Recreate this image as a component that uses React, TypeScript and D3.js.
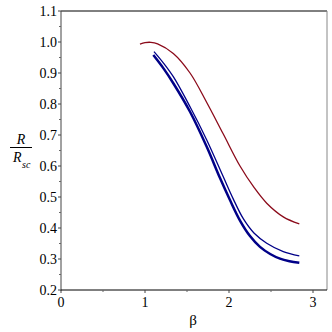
import React from "react";
import * as d3 from "d3";

const redBeta = [0.94, 1.0, 1.07, 1.15, 1.337, 1.536, 1.735, 1.932, 2.131, 2.3, 2.449, 2.646, 2.837];
const redR = [0.9935, 0.998, 0.999, 0.994, 0.963, 0.9, 0.805, 0.703, 0.6, 0.53, 0.48, 0.436, 0.413];

const thinBeta = [1.107, 1.22, 1.337, 1.536, 1.735, 1.932, 2.05, 2.17, 2.3, 2.449, 2.646, 2.837];
const thinR = [0.969, 0.932, 0.888, 0.791, 0.684, 0.565, 0.494, 0.43, 0.383, 0.351, 0.324, 0.31];

const thickBeta = [1.099, 1.22, 1.337, 1.536, 1.735, 1.893, 2.01, 2.131, 2.25, 2.369, 2.49, 2.607, 2.72, 2.837];
const thickR = [0.958, 0.915, 0.867, 0.775, 0.662, 0.561, 0.491, 0.424, 0.374, 0.339, 0.316, 0.301, 0.293, 0.288];

const xTicks = [0, 1, 2, 3];
const xMinor = [0.5, 1.5, 2.5];
const yTicks = [0.2, 0.3, 0.4, 0.5, 0.6, 0.7, 0.8, 0.9, 1.0, 1.1];
const yMinor = [0.25, 0.35, 0.45, 0.55, 0.65, 0.75, 0.85, 0.95, 1.05];

export default function App() {
  const x = d3.scaleLinear().domain([0, 3]).range([61, 313]);
  const y = d3.scaleLinear().domain([0.2, 1.1]).range([290, 11]);
  const xMax = 327;
  const line = d3
    .line<[number, number]>()
    .x((d) => x(d[0]))
    .y((d) => y(d[1]))
    .curve(d3.curveCatmullRom.alpha(0.5));
  const zip = (a: number[], b: number[]) => a.map((v, i) => [v, b[i]] as [number, number]);
  const ff = '"Liberation Serif", "DejaVu Serif", "Times New Roman", serif';
  const txt = (size: number, italic = false): React.CSSProperties => ({
    fontFamily: ff,
    fontSize: size + "px",
    fontStyle: italic ? "italic" : "normal",
  });
  return (
    <svg
      width={332}
      height={332}
      style={{ position: "absolute", left: 0, top: 0, background: "#fff" }}
    >
      <rect x={0} y={0} width={332} height={332} fill="#fff" />
      {/* frame */}
      <line x1={61} x2={xMax} y1={11} y2={11} stroke="#000" strokeWidth={1} />
      <line x1={xMax} x2={xMax} y1={11} y2={290} stroke="#888" strokeWidth={1} />
      <line x1={61} x2={61} y1={11} y2={291} stroke="#444" strokeWidth={1} />
      <line x1={61} x2={xMax} y1={290} y2={290} stroke="#000" strokeWidth={1} />
      {/* y ticks */}
      {yTicks.map((t) => (
        <g key={"y" + t}>
          <line x1={58} x2={61} y1={y(t)} y2={y(t)} stroke="#444" />
          <text x={57} y={y(t) + 4.5} textAnchor="end" style={txt(14)} fill="#000">
            {t.toFixed(1)}
          </text>
        </g>
      ))}
      {yMinor.map((t) => (
        <line key={"ym" + t} x1={59} x2={61} y1={y(t)} y2={y(t)} stroke="#666" />
      ))}
      {/* x ticks */}
      {xTicks.map((t) => (
        <g key={"x" + t}>
          <line x1={x(t)} x2={x(t)} y1={290} y2={293} stroke="#444" />
          <text x={x(t)} y={307} textAnchor="middle" style={txt(14)} fill="#000">
            {t}
          </text>
        </g>
      ))}
      {xMinor.map((t) => (
        <line key={"xm" + t} x1={x(t)} x2={x(t)} y1={290} y2={292} stroke="#666" />
      ))}
      {/* axis labels */}
      <text x={193} y={325} textAnchor="middle" style={txt(15)} fill="#000">
        β
      </text>
      <text x={21} y={144} textAnchor="middle" style={txt(14, true)} fill="#000">
        R
      </text>
      <line x1={10} x2={32} y1={147.5} y2={147.5} stroke="#000" strokeWidth={1} />
      <text x={13} y={161.5} style={txt(14, true)} fill="#000">
        R
      </text>
      <text x={22} y={167.5} style={txt(10, true)} fill="#000">
        sc
      </text>
      {/* curves */}
      <path d={line(zip(redBeta, redR)) || ""} fill="none" stroke="#8b0a1a" strokeWidth={1.3} />
      <path d={line(zip(thinBeta, thinR)) || ""} fill="none" stroke="#000088" strokeWidth={1.3} />
      <path d={line(zip(thickBeta, thickR)) || ""} fill="none" stroke="#000088" strokeWidth={2.5} />
    </svg>
  );
}
